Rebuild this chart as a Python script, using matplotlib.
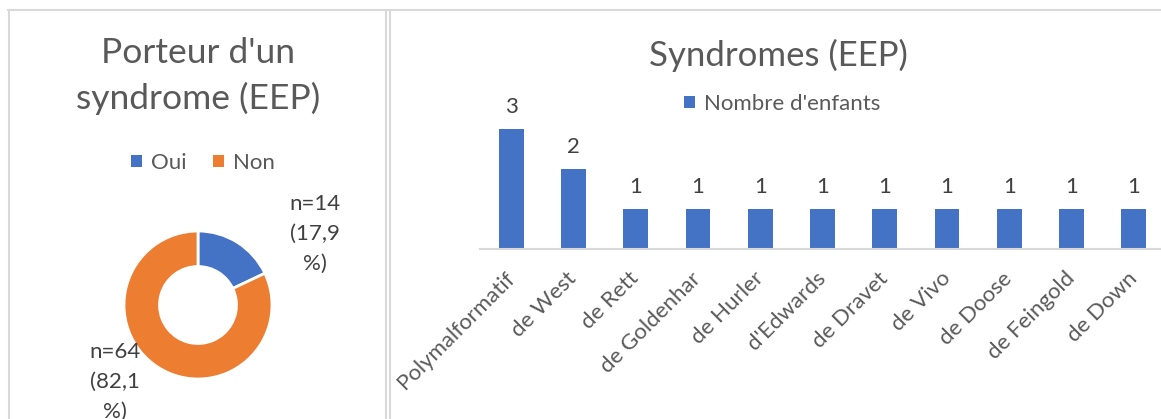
import matplotlib.pyplot as plt
from matplotlib.lines import Line2D
from matplotlib.patches import Patch

plt.rcParams['font.family'] = ['Lato', 'DejaVu Sans']

W, H = 1161, 419

# donut data
donut_labels = ['Oui', 'Non']
donut_counts = [14, 64]
donut_pct = ['17,9', '82,1']
donut_colors = ['#4472C4', '#ED7D31']

# bar data
syndromes = ['Polymalformatif', 'de West', 'de Rett', 'de Goldenhar', 'de Hurler',
             "d'Edwards", 'de Dravet', 'de Vivo', 'de Doose', 'de Feingold', 'de Down']
nb_enfants = [3, 2, 1, 1, 1, 1, 1, 1, 1, 1, 1]

TXT = '#595959'
LBL = '#404040'
GRID = '#d9d9d9'


def fx(px):
    return px / W


def fy(py):
    return 1 - py / H


fig = plt.figure(figsize=(W / 100, H / 100), dpi=100)

# panel borders
for xs, ys in [((8, W), (10, 10)), ((9, 9), (10, H)), ((386, 386), (10, H)), ((390, 390), (10, H))]:
    fig.add_artist(Line2D([fx(x) for x in xs], [fy(y) for y in ys], color=GRID, lw=1.5))

# ---- left: donut ----
fig.text(fx(198), fy(53), "Porteur d'un", ha='center', va='center', fontsize=25.5, color=TXT)
fig.text(fx(198), fy(98), 'syndrome (EEP)', ha='center', va='center', fontsize=25.5, color=TXT)

r = 74
ax1 = fig.add_axes([fx(198 - r), fy(305 + r), 2 * r / W, 2 * r / H])
ax1.pie(donut_counts, colors=donut_colors, startangle=90, counterclock=False, radius=1,
        wedgeprops=dict(width=0.48, edgecolor='white', linewidth=2))
ax1.set_xlim(-1, 1)
ax1.set_ylim(-1, 1)
ax1.set_aspect('equal')
ax1.axis('off')

for i, (n, p) in enumerate(zip(donut_counts, donut_pct)):
    pos = [(1.58, 0.96), (-1.12, -1.04)][i]
    ax1.text(pos[0], pos[1], f'n={n}\n({p}\n%)', ha='center', va='center', fontsize=16,
             color=LBL, linespacing=1.6, clip_on=False)

handles = [Patch(facecolor=c, label=l) for c, l in zip(donut_colors, donut_labels)]
fig.legend(handles=handles, loc='center', bbox_to_anchor=(fx(203), fy(163)), ncol=2, frameon=False,
           fontsize=16, labelcolor=TXT, handlelength=0.5, handleheight=0.5, handletextpad=0.4,
           columnspacing=1.2)

# ---- right: bars ----
fig.text(fx(778), fy(55), 'Syndromes (EEP)', ha='center', va='center', fontsize=25, color=TXT)

ax2 = fig.add_axes([fx(480), fy(249), 685 / W, 160 / H])
x = range(len(syndromes))
bars = ax2.bar(x, nb_enfants, width=0.4, color='#4472C4', label="Nombre d'enfants")
ax2.bar_label(bars, padding=9, fontsize=16, color=LBL)
ax2.set_xlim(-0.5, len(syndromes) - 0.5)
ax2.set_ylim(0, 4)
ax2.set_xticks(list(x))
ax2.set_xticklabels(syndromes, rotation=45, ha='right', va='center', rotation_mode='anchor',
                    fontsize=16, color=TXT)
ax2.tick_params(axis='x', length=0, pad=19)
ax2.set_yticks([])
for s in ['top', 'right', 'left']:
    ax2.spines[s].set_visible(False)
ax2.spines['bottom'].set_color(GRID)
ax2.spines['bottom'].set_linewidth(1.5)
ax2.patch.set_alpha(0)

fig.legend(handles=[Patch(facecolor='#4472C4', label="Nombre d'enfants")], loc='center',
           bbox_to_anchor=(fx(782), fy(104)), frameon=False, fontsize=16, labelcolor=TXT,
           handlelength=0.5, handleheight=0.5, handletextpad=0.4)

fig.savefig('out.png', dpi=100)
